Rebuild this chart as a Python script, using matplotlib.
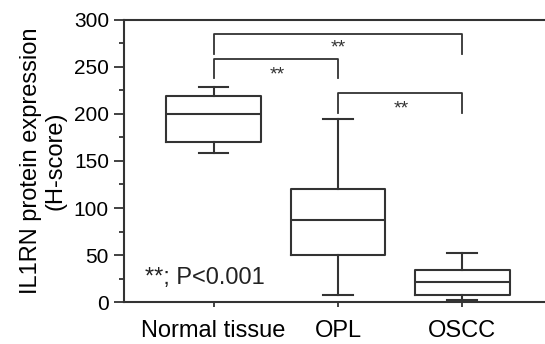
import matplotlib.pyplot as plt
from matplotlib.ticker import MultipleLocator

plt.rcParams['font.family'] = ['Liberation Sans', 'DejaVu Sans']

groups = ['Normal tissue', 'OPL', 'OSCC']
whisker_low = [159, 8, 2]
q1 = [170, 50, 8]
median = [200, 87, 21]
q3 = [219, 120, 34]
whisker_high = [229, 195, 52]

# brackets: (left group, right group, bar height, leg bottom, star height, star x)
brackets = [(1, 3, 285, 264, 277, 2.0),
            (1, 2, 258, 238, 249, 1.51),
            (2, 3, 222, 201, 213, 2.51)]

stats = []
for i, g in enumerate(groups):
    stats.append({'label': g, 'whislo': whisker_low[i], 'q1': q1[i], 'med': median[i],
                  'q3': q3[i], 'whishi': whisker_high[i], 'fliers': []})

fig = plt.figure(figsize=(5.45, 3.44), dpi=100)
ax = fig.add_axes([0.2275, 0.122, 0.7725, 0.820])
lc = '#333333'
lw = 1.5
ax.bxp(stats, positions=[1, 2, 3], widths=0.76, showfliers=False,
       boxprops=dict(color=lc, linewidth=lw),
       whiskerprops=dict(color=lc, linewidth=lw),
       capprops=dict(color=lc, linewidth=lw),
       medianprops=dict(color=lc, linewidth=lw),
       capwidths=0.24)

for a, b, h, leg, sy, sx in brackets:
    ax.plot([a, a, b, b], [leg, h, h, leg], color=lc, linewidth=1.3)
    # asterisks sit high in the em box, so place by baseline
    ax.text(sx, sy - 12, '**', ha='center', va='baseline', fontsize=14, color=lc)

ax.text(0.448, 19, '**; P<0.001', ha='left', va='baseline', fontsize=17, color='#222222')

ax.set_xlim(0.28, 3.664)
ax.set_ylim(0, 300)
ax.yaxis.set_major_locator(MultipleLocator(50))
ax.yaxis.set_minor_locator(MultipleLocator(25))
ax.set_xticks([1, 2, 3])
ax.set_xticklabels(groups)
ax.tick_params(axis='both', which='both', direction='out', color=lc, width=1.3)
ax.tick_params(axis='y', which='major', length=7.2, pad=3.6, labelsize=15)
ax.tick_params(axis='y', which='minor', length=3.6)
ax.tick_params(axis='x', length=3.6, pad=9, labelsize=17)
ax.set_ylabel('IL1RN protein expression\n(H-score)', fontsize=17, linespacing=1.2, labelpad=5)
for s in ax.spines.values():
    s.set_color(lc)
    s.set_linewidth(1.5)
ax.spines['right'].set_visible(False)

fig.savefig('out.png', dpi=100)
